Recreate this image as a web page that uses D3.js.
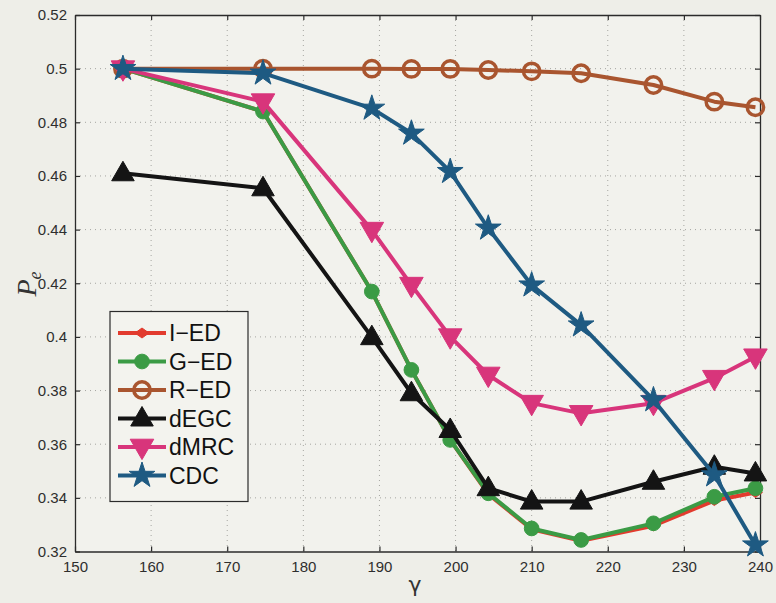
<!DOCTYPE html>
<html>
<head>
<meta charset="utf-8">
<script src="https://cdn.jsdelivr.net/npm/d3@7/dist/d3.min.js"></script>
<style>
  html, body { margin: 0; padding: 0; background: #eeeee8; }
  svg { display: block; }
</style>
</head>
<body>
<svg id="chart" width="776" height="603"></svg>
<script>
// SNR-like parameter on the horizontal axis
const gamma = [156.3, 174.7, 189.0, 194.2, 199.3, 204.3, 210.0, 216.5, 226.0, 234.0, 239.4];

// Error probability for each detector
const iED  = [0.5000, 0.4840, 0.4169, 0.3877, 0.3616, 0.3414, 0.3283, 0.3240, 0.3296, 0.3390, 0.3420];
const gED  = [0.5000, 0.4840, 0.4169, 0.3877, 0.3616, 0.3417, 0.3286, 0.3243, 0.3305, 0.3404, 0.3436];
const rED  = [0.5000, 0.5000, 0.5000, 0.4999, 0.4999, 0.4995, 0.4990, 0.4983, 0.4939, 0.4877, 0.4856];
const dEGC = [0.4610, 0.4554, 0.3999, 0.3790, 0.3653, 0.3436, 0.3386, 0.3386, 0.3460, 0.3516, 0.3491];
const dMRC = [0.5000, 0.4877, 0.4398, 0.4193, 0.4001, 0.3858, 0.3753, 0.3715, 0.3753, 0.3846, 0.3926];
const cdc  = [0.5000, 0.4983, 0.4852, 0.4759, 0.4616, 0.4405, 0.4193, 0.4044, 0.3765, 0.3485, 0.3224];

const seriesNames = ["I\u2212ED", "G\u2212ED", "R\u2212ED", "dEGC", "dMRC", "CDC"];
const seriesValues = [iED, gED, rED, dEGC, dMRC, cdc];

const xTicks = [150, 160, 170, 180, 190, 200, 210, 220, 230, 240];
const yTicks = [0.32, 0.34, 0.36, 0.38, 0.40, 0.42, 0.44, 0.46, 0.48, 0.50, 0.52];

const styles = [
  { color: "#e23b2e", marker: "diamond" },
  { color: "#3b9b45", marker: "dot" },
  { color: "#a9552f", marker: "ring" },
  { color: "#141414", marker: "up" },
  { color: "#d8357b", marker: "down" },
  { color: "#1e5a82", marker: "star" }
];

const svg = d3.select("#chart");
const L = 75, R = 760, T = 15, B = 551.5;

const x = d3.scaleLinear().domain([150, 240]).range([L, R]);
const y = d3.scaleLinear().domain([0.32, 0.52]).range([B, T]);

// plot background
svg.append("rect").attr("x", L).attr("y", T).attr("width", R - L).attr("height", B - T)
  .attr("fill", "#f2f2ed");

// dotted grid
const grid = svg.append("g").attr("stroke", "#a5a5a0").attr("stroke-width", 1)
  .attr("stroke-dasharray", "1,4");
xTicks.slice(1, -1).forEach(t => {
  grid.append("line").attr("x1", x(t)).attr("x2", x(t)).attr("y1", T).attr("y2", B);
});
yTicks.slice(1, -1).forEach(t => {
  grid.append("line").attr("x1", L).attr("x2", R).attr("y1", y(t)).attr("y2", y(t));
});

// axes with inward ticks on all four sides
const tickFmt = d => (d === 0.5 ? "0.5" : d === 0.4 ? "0.4" : d3.format(".2f")(d));
const fontAxis = "Liberation Sans, Arial, sans-serif";

const gBottom = svg.append("g").attr("transform", `translate(0,${B})`)
  .call(d3.axisBottom(x).tickValues(xTicks).tickSizeInner(-5).tickSizeOuter(0).tickPadding(10));
const gLeft = svg.append("g").attr("transform", `translate(${L},0)`)
  .call(d3.axisLeft(y).tickValues(yTicks).tickFormat(tickFmt).tickSizeInner(-5).tickSizeOuter(0).tickPadding(8));
const gTop = svg.append("g").attr("transform", `translate(0,${T})`)
  .call(d3.axisTop(x).tickValues(xTicks).tickSizeInner(-5).tickSizeOuter(0).tickFormat(""));
const gRight = svg.append("g").attr("transform", `translate(${R},0)`)
  .call(d3.axisRight(y).tickValues(yTicks).tickSizeInner(-5).tickSizeOuter(0).tickFormat(""));

[gBottom, gLeft, gTop, gRight].forEach(g => {
  g.select(".domain").attr("stroke", "#2b2b2b").attr("stroke-width", 1.3);
  g.selectAll(".tick line").attr("stroke", "#2b2b2b").attr("stroke-width", 1.2);
  g.selectAll("text").attr("fill", "#2e2e2e").attr("font-family", fontAxis).attr("font-size", 15);
});

// marker drawing
function markerPath(kind) {
  switch (kind) {
    case "star": return d3.symbol(d3.symbolStar).size(205)();
    case "up": return d3.symbol(d3.symbolTriangle).size(220)();
    case "down": return d3.symbol(d3.symbolTriangle).size(240)();
    case "dot": return d3.symbol(d3.symbolCircle).size(170)();
    case "ring": return d3.symbol(d3.symbolCircle).size(210)();
    case "diamond": return "M-7,0L0,-5L7,0L0,5Z";
  }
}
function drawMarker(g, kind, color, cx, cy) {
  const p = g.append("path").attr("d", markerPath(kind));
  let tr = `translate(${cx},${cy})`;
  if (kind === "up") tr += " translate(0,1)";
  if (kind === "down") tr += " rotate(180) translate(0,1)";
  p.attr("transform", tr);
  if (kind === "ring") {
    p.attr("fill", "none").attr("stroke", color).attr("stroke-width", 3.5);
  } else {
    p.attr("fill", color).attr("stroke", color).attr("stroke-width", 1);
  }
}

const line = d3.line().x(d => x(d[0])).y(d => y(d[1]));
const plot = svg.append("g");

seriesValues.forEach((vals, i) => {
  const st = styles[i];
  const pts = gamma.map((g, k) => [g, vals[k]]);
  const g = plot.append("g");
  g.append("path").datum(pts).attr("d", line)
    .attr("fill", "none").attr("stroke", st.color).attr("stroke-width", 4)
    .attr("stroke-linejoin", "round");
  pts.forEach(p => drawMarker(g, st.marker, st.color, x(p[0]), y(p[1])));
});

// legend
const lg = svg.append("g");
lg.append("rect").attr("x", 110).attr("y", 311.5).attr("width", 138).attr("height", 190)
  .attr("fill", "#f3f3ee").attr("stroke", "#2b2b2b").attr("stroke-width", 1.2);
seriesNames.forEach((name, i) => {
  const st = styles[i];
  const cy = 333 + i * 28.5;
  lg.append("line").attr("x1", 118).attr("x2", 166).attr("y1", cy).attr("y2", cy)
    .attr("stroke", st.color).attr("stroke-width", 4);
  drawMarker(lg, st.marker, st.color, 142, cy);
  lg.append("text").attr("x", 169).attr("y", cy).attr("dy", "0.36em")
    .attr("font-family", fontAxis).attr("font-size", 23).attr("fill", "#111")
    .text(name);
});

// axis titles
svg.append("text").attr("x", 415).attr("y", 592).attr("text-anchor", "middle")
  .attr("font-family", "DejaVu Sans, sans-serif").attr("font-size", 22).attr("fill", "#333")
  .text("\u03b3");

const yl = svg.append("text").attr("transform", "translate(36,284) rotate(-90)")
  .attr("text-anchor", "middle").attr("font-family", "Liberation Serif, Times New Roman, serif")
  .attr("font-style", "italic").attr("fill", "#333");
yl.append("tspan").attr("font-size", 28).text("P");
yl.append("tspan").attr("font-size", 18).attr("dy", 5).text("e");
</script>
</body>
</html>
